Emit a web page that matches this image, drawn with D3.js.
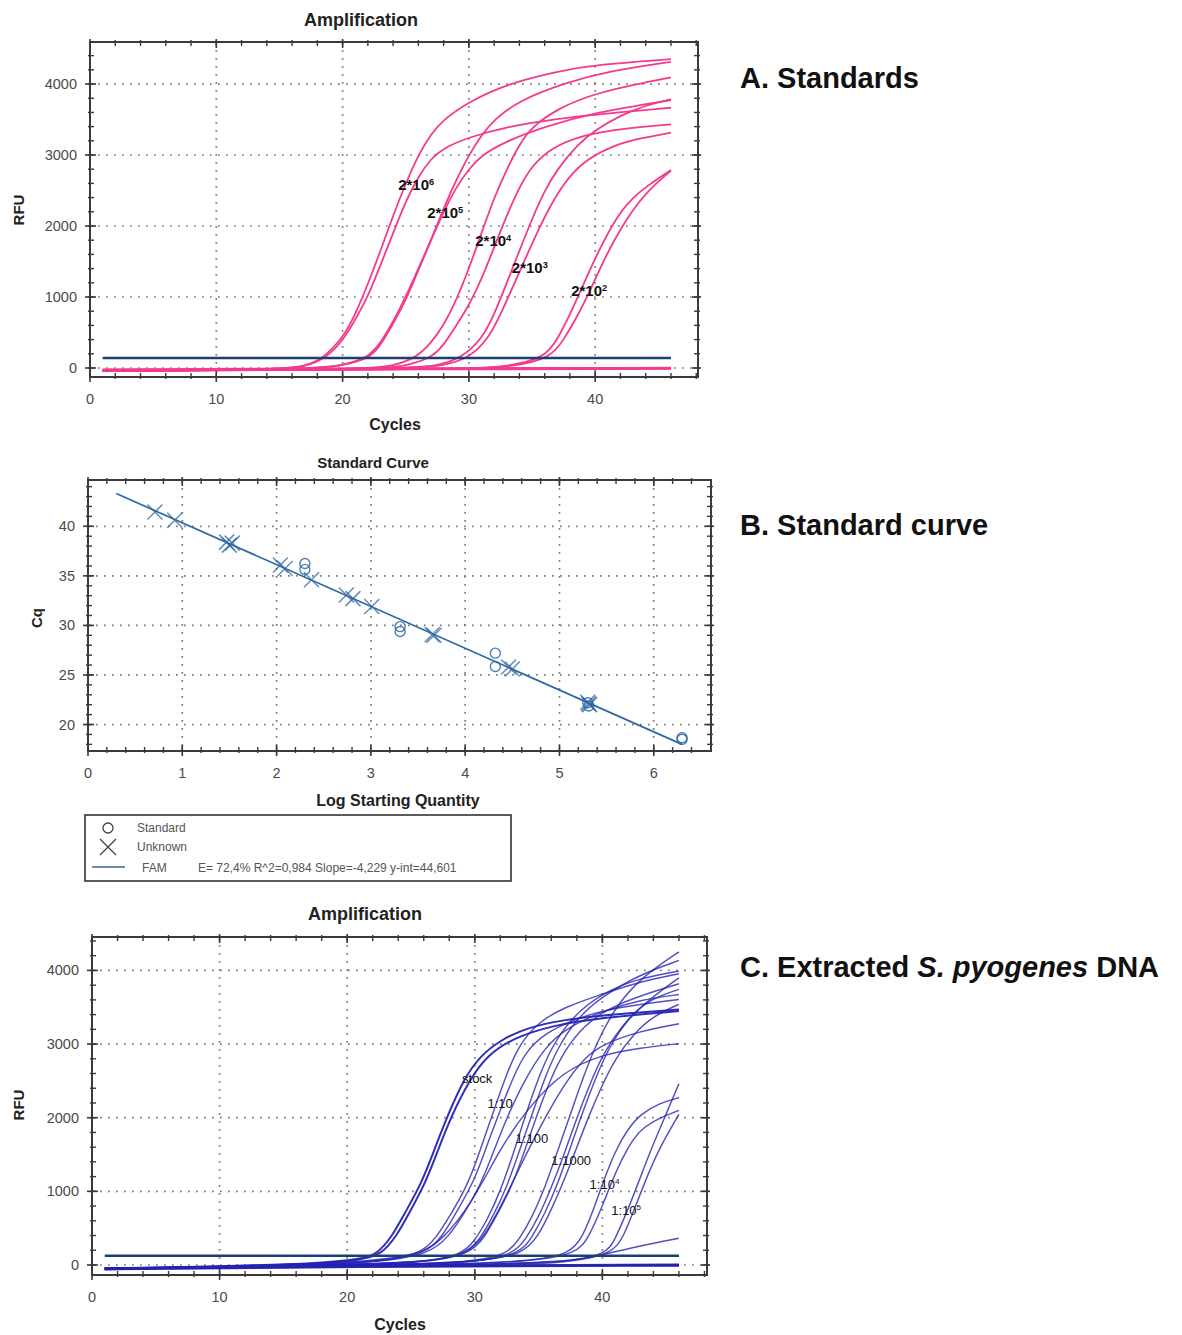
<!DOCTYPE html>
<html>
<head>
<meta charset="utf-8">
<script src="https://cdn.jsdelivr.net/npm/d3@7"></script>
<style>
  body { margin: 0; background: #fff; }
  text { font-family: "Liberation Sans", Arial, sans-serif; }
</style>
</head>
<body>
<div id="chart"></div>
<script>
const width = 1182;
const height = 1335;

// ---- data ----
// A. standards: [cycle, RFU] points per trace
const standardCurves = [
  [[1,-40],[15,-20],[17,20],[18.5,140],[20,420],[21,750],[22,1180],[23,1650],[24,2150],[25,2600],[26,3000],[27,3300],[28,3500],[30,3750],[33,4000],[37,4180],[40,4270],[46,4350]],
  [[1,-40],[15,-20],[17,15],[18.7,140],[20,380],[21,680],[22,1000],[23,1450],[24,1900],[25,2350],[26,2700],[27,2950],[28,3100],[30,3250],[33,3400],[37,3510],[40,3570],[46,3666]],
  [[1,-40],[18,-15],[20,40],[22,140],[23,350],[24,650],[25,1000],[26,1400],[27,1800],[28,2250],[29,2650],[30,3000],[31,3280],[32,3500],[34,3770],[37.5,4010],[41,4180],[46,4313]],
  [[1,-40],[18,-15],[20,35],[22.2,140],[23,320],[24,620],[25,950],[26,1380],[27,1800],[28,2200],[29,2550],[30,2800],[31,3000],[33,3200],[36,3400],[40,3600],[46,3775]],
  [[1,-40],[22,-15],[24,30],[25.8,140],[27,350],[28,600],[29,950],[30,1400],[31,1900],[32,2400],[33,2800],[34,3150],[35,3400],[37,3650],[40,3880],[46,4093]],
  [[1,-40],[23,-15],[25,30],[27,140],[28,320],[29,600],[30,880],[31,1250],[32,1700],[33,2150],[34,2550],[35,2850],[36.5,3100],[39,3280],[42,3370],[46,3432]],
  [[1,-40],[25,-15],[27.5,30],[29.4,140],[31,400],[32,750],[33,1200],[34,1650],[35,2100],[36,2500],[37,2800],[38.6,3150],[40,3350],[42,3560],[44,3700],[46,3783]],
  [[1,-40],[25,-15],[28,30],[30,140],[31.5,400],[32.5,750],[33.5,1150],[34.5,1550],[35.5,1950],[36.5,2300],[37.5,2600],[39,2900],[41,3100],[43,3220],[46,3315]],
  [[1,-40],[30,-20],[33,20],[36,140],[37,400],[38,750],[39,1150],[40,1550],[41,1900],[42,2200],[43,2400],[44,2550],[46,2790]],
  [[1,-40],[30,-20],[33.5,20],[36.5,140],[37.5,400],[38.5,700],[39.5,1050],[40.5,1450],[41.5,1800],[42.5,2100],[43.5,2350],[44.5,2550],[46,2780]]
];
const standardNegatives = [
  [[1,-30],[20,-15],[46,-8]],
  [[1,-25],[20,-8],[46,-2]]
];
const standardLabels = [
  { base: "2*10", sup: "6", at: [24.4, 2510] },
  { base: "2*10", sup: "5", at: [26.7, 2110] },
  { base: "2*10", sup: "4", at: [30.5, 1720] },
  { base: "2*10", sup: "3", at: [33.4, 1340] },
  { base: "2*10", sup: "2", at: [38.1, 1015] }
];
const standardThreshold = 140;

// C. extracted DNA traces
const stockCurves = [
  [[1,-55],[10,-20],[18,20],[21,80],[22.3,140],[23.5,380],[24.5,700],[25.8,1100],[26.8,1550],[27.8,2000],[29.2,2550],[30.5,2850],[32,3050],[34,3220],[37,3330],[40,3390],[46,3471]],
  [[1,-60],[10,-25],[18,15],[21,70],[22.7,140],[23.9,400],[24.9,720],[26.1,1100],[27.1,1550],[28.1,2000],[29.6,2520],[31,2850],[33,3080],[36,3250],[40,3360],[46,3448]]
];
const sampleCurves = [
  [[1,-50],[15,-10],[22,40],[25.8,140],[27,380],[28,650],[29.5,1100],[30.5,1600],[31.5,2100],[32.5,2600],[33.5,3000],[35,3300],[37,3500],[40,3680],[43,3850],[46,3955]],
  [[1,-55],[15,-15],[22,35],[26.2,140],[27.5,400],[28.5,700],[30,1150],[31,1650],[32,2100],[33,2550],[34,2900],[35.5,3150],[38,3350],[41,3500],[46,3606]],
  [[1,-50],[16,-10],[22,30],[26.5,140],[28,400],[29,650],[30.5,1100],[31.5,1550],[32.5,2000],[34,2550],[35.5,2950],[37,3200],[40,3450],[43,3600],[46,3674]],
  [[1,-45],[15,0],[22,50],[25.5,140],[27.3,300],[29.9,870],[32,1590],[34.2,2140],[36.9,2630],[40,2860],[43,2950],[46,3005]],
  [[1,-50],[20,0],[26,40],[29,140],[30,330],[31,620],[32,1000],[33,1500],[34,2050],[35,2550],[36,2950],[37.5,3350],[40,3700],[43,3900],[46,3991]],
  [[1,-50],[20,0],[26,35],[29.3,140],[30.4,350],[31.4,650],[32.5,1050],[33.5,1550],[34.5,2050],[35.5,2550],[36.5,2950],[38,3350],[40,3650],[43,3950],[46,4136]],
  [[1,-55],[20,-5],[26,30],[29.6,140],[30.8,380],[31.8,700],[33,1100],[34,1600],[35,2100],[36,2550],[37,2900],[38.5,3250],[41,3550],[46,3819]],
  [[1,-50],[20,0],[26,35],[29.5,140],[31,450],[32.5,950],[34,1500],[35.5,2000],[37,2450],[38.5,2800],[40,3000],[43,3180],[46,3276]],
  [[1,-50],[25,0],[30,50],[32.5,140],[33.5,350],[34.5,650],[35.5,1050],[36.5,1550],[37.5,2050],[38.5,2550],[39.5,3000],[41,3500],[43,3900],[46,4253]],
  [[1,-50],[25,0],[30,40],[33,140],[34,350],[35,650],[36,1050],[37,1500],[38,2000],[39,2450],[40,2850],[41.5,3250],[43.5,3600],[46,3742]],
  [[1,-45],[25,0],[30,45],[33.5,140],[34.5,380],[35.5,700],[36.5,1100],[37.5,1600],[38.5,2100],[39.5,2550],[40.5,2950],[42,3350],[44,3650],[46,3900]],
  [[1,-45],[25,0],[30,40],[33.8,140],[35,400],[36,750],[37,1150],[38,1600],[39,2050],[40,2450],[41,2800],[42.5,3150],[44,3380],[46,3540]],
  [[1,-45],[28,0],[34,50],[37.5,140],[38.5,400],[39.3,750],[40,1100],[41,1550],[42,1850],[43,2050],[44.5,2200],[46,2271]],
  [[1,-50],[28,0],[34,45],[38,140],[39,400],[40,800],[41,1250],[42,1600],[43,1850],[44.5,2000],[46,2100]],
  [[1,-50],[30,0],[37,40],[40.3,140],[41,350],[42,750],[43,1200],[44,1650],[45,2050],[46,2462]],
  [[1,-50],[30,0],[37,35],[40.8,140],[41.7,400],[42.6,800],[43.5,1200],[44.5,1600],[46,2045]],
  [[1,-45],[30,0],[36,20],[38,60],[40,140],[43,260],[46,362]]
];
const sampleNegatives = [
  [[1,-55],[20,-20],[46,-5]],
  [[1,-48],[20,-12],[46,2]]
];
const sampleLabels = [
  { base: "stock", sup: "", at: [29.0, 2470] },
  { base: "1:10", sup: "", at: [31.0, 2130] },
  { base: "1:100", sup: "", at: [33.2, 1655] },
  { base: "1:1000", sup: "", at: [36.0, 1357] },
  { base: "1:10", sup: "4", at: [39.0, 1031] },
  { base: "1:10", sup: "5", at: [40.7, 678] }
];
const sampleThreshold = 125;

// B. standard curve
const standardPoints = [
  [2.30, 36.25], [2.30, 35.65], [3.31, 29.88], [3.31, 29.38],
  [4.32, 27.2], [4.32, 25.86], [5.31, 21.87], [5.30, 22.2],
  [6.30, 18.66], [6.30, 18.5]
];
const unknownPoints = [
  [0.71, 41.44], [0.92, 40.6], [1.47, 38.4], [1.50, 38.1], [1.53, 38.3],
  [2.04, 36.1], [2.09, 35.75], [2.37, 34.6], [2.74, 33.07], [2.81, 32.7],
  [3.01, 31.9], [3.65, 29.05], [3.67, 29.0], [4.46, 25.8], [4.50, 25.6],
  [5.30, 22.25], [5.32, 22.0], [5.31, 22.1]
];
const fitLine = [[0.3, 43.3], [6.3, 18.0]];
const legendText = "E= 72,4% R^2=0,984 Slope=-4,229 y-int=44,601";

const ampXTicks = [0, 10, 20, 30, 40];
const ampYTicks = [0, 1000, 2000, 3000, 4000];
const stdXTicks = [0, 1, 2, 3, 4, 5, 6];
const stdYTicks = [20, 25, 30, 35, 40];

// ---- drawing ----
const svg = d3.select("#chart").append("svg")
  .attr("width", width)
  .attr("height", height);
svg.append("rect").attr("width", width).attr("height", height).attr("fill", "#fff");

const gridColor = "#7a7a7a";
const frameColor = "#3a3a3a";
const tickTextColor = "#4a4a4a";

function drawFrame(g, x, y, xMajor, yMajor) {
  const [x0, x1] = x.range();
  const [y0, y1] = y.range(); // y0 bottom, y1 top

  // dotted grid
  g.selectAll(".gx").data(xMajor.filter(v => Math.abs(x(v) - x0) > 2)).enter()
    .append("line")
    .attr("x1", d => x(d)).attr("x2", d => x(d))
    .attr("y1", y1).attr("y2", y0)
    .attr("stroke", gridColor).attr("stroke-width", 1.7)
    .attr("stroke-dasharray", "1.7,6.3");
  g.selectAll(".gy").data(yMajor).enter()
    .append("line")
    .attr("x1", x0).attr("x2", x1)
    .attr("y1", d => y(d)).attr("y2", d => y(d))
    .attr("stroke", gridColor).attr("stroke-width", 1.7)
    .attr("stroke-dasharray", "1.7,6.3");
}

function drawBorder(g, x, y, xMajor, yMajor, xMinor, yMinor, fmtX, fmtY) {
  const [x0, x1] = x.range();
  const [y0, y1] = y.range();
  const tk = 4;
  // minor ticks on all four sides
  xMinor.forEach(v => {
    g.append("line").attr("x1", x(v)).attr("x2", x(v)).attr("y1", y0 + 2).attr("y2", y0 - tk)
      .attr("stroke", frameColor).attr("stroke-width", 1.4);
    g.append("line").attr("x1", x(v)).attr("x2", x(v)).attr("y1", y1 - 2).attr("y2", y1 + tk)
      .attr("stroke", frameColor).attr("stroke-width", 1.4);
  });
  yMinor.forEach(v => {
    g.append("line").attr("x1", x0 - 2).attr("x2", x0 + tk).attr("y1", y(v)).attr("y2", y(v))
      .attr("stroke", frameColor).attr("stroke-width", 1.4);
    g.append("line").attr("x1", x1 + 2).attr("x2", x1 - tk).attr("y1", y(v)).attr("y2", y(v))
      .attr("stroke", frameColor).attr("stroke-width", 1.4);
  });
  // major ticks crossing the frame
  xMajor.forEach(v => {
    g.append("line").attr("x1", x(v)).attr("x2", x(v)).attr("y1", y0 + 5).attr("y2", y0 - 6)
      .attr("stroke", frameColor).attr("stroke-width", 1.6);
    g.append("line").attr("x1", x(v)).attr("x2", x(v)).attr("y1", y1 - 3).attr("y2", y1 + 6)
      .attr("stroke", frameColor).attr("stroke-width", 1.6);
  });
  yMajor.forEach(v => {
    g.append("line").attr("x1", x0 - 5).attr("x2", x0 + 6).attr("y1", y(v)).attr("y2", y(v))
      .attr("stroke", frameColor).attr("stroke-width", 1.6);
    g.append("line").attr("x1", x1 + 3).attr("x2", x1 - 6).attr("y1", y(v)).attr("y2", y(v))
      .attr("stroke", frameColor).attr("stroke-width", 1.6);
  });
  g.append("rect")
    .attr("x", x0).attr("y", y1)
    .attr("width", x1 - x0).attr("height", y0 - y1)
    .attr("fill", "none").attr("stroke", frameColor).attr("stroke-width", 2);

  // tick labels
  g.selectAll(".xl").data(xMajor).enter().append("text")
    .attr("x", d => x(d)).attr("y", y0 + 27)
    .attr("text-anchor", "middle")
    .attr("font-size", 14.5).attr("fill", tickTextColor)
    .text(fmtX);
  g.selectAll(".yl").data(yMajor).enter().append("text")
    .attr("x", x0 - 13).attr("y", d => y(d) + 5)
    .attr("text-anchor", "end")
    .attr("font-size", 14.5).attr("fill", tickTextColor)
    .text(fmtY);
}

function titleText(x, y, txt, size, rotate) {
  const t = svg.append("text")
    .attr("text-anchor", "middle")
    .attr("font-weight", "bold")
    .attr("font-size", size)
    .attr("fill", "#222")
    .text(txt);
  if (rotate) t.attr("transform", `translate(${x},${y}) rotate(-90)`);
  else t.attr("x", x).attr("y", y);
  return t;
}

function addLabel(g, x, y, lab, font, size, weight) {
  const t = g.append("text")
    .attr("x", x(lab.at[0])).attr("y", y(lab.at[1]))
    .attr("font-family", font)
    .attr("font-size", size)
    .attr("font-weight", weight)
    .attr("fill", "#111");
  t.append("tspan").text(lab.base);
  if (lab.sup) {
    t.append("tspan").attr("dy", -5).attr("font-size", size * 0.62).text(lab.sup);
  }
}

function amplificationPanel(opts) {
  const x = d3.scaleLinear().domain([0, opts.xMax]).range([opts.left, opts.right]);
  const y = d3.scaleLinear().domain([opts.yMin, opts.yMax]).range([opts.bottom, opts.top]);
  const g = svg.append("g");
  drawFrame(g, x, y, ampXTicks, ampYTicks);

  const line = d3.line()
    .x(d => x(d[0]))
    .y(d => y(d[1]))
    .curve(d3.curveBasis);

  g.selectAll(".neg").data(opts.negatives).enter().append("path")
    .attr("d", line).attr("fill", "none")
    .attr("stroke", opts.color).attr("stroke-width", 2.6).attr("stroke-opacity", 0.95);

  g.selectAll(".curve").data(opts.curves).enter().append("path")
    .attr("d", line).attr("fill", "none")
    .attr("stroke", opts.color).attr("stroke-width", opts.lw)
    .attr("stroke-opacity", opts.opacity);

  if (opts.thick) {
    g.selectAll(".thick").data(opts.thick).enter().append("path")
      .attr("d", line).attr("fill", "none")
      .attr("stroke", opts.color).attr("stroke-width", 2)
      .attr("stroke-opacity", 0.95);
  }

  // threshold
  g.append("line")
    .attr("x1", x(1)).attr("x2", x(46))
    .attr("y1", y(opts.threshold)).attr("y2", y(opts.threshold))
    .attr("stroke", "#1c3f72").attr("stroke-width", 2.6);

  drawBorder(g, x, y, ampXTicks, ampYTicks,
    d3.range(2, opts.xMax, 2), d3.range(-200, opts.yMax, 200).filter(v => v > opts.yMin),
    d => d, d => d);

  opts.labels.forEach(l => addLabel(g, x, y, l, opts.labelFont, opts.labelSize, opts.labelWeight));
  return { x, y };
}

// Panel A
amplificationPanel({
  left: 90, right: 698, top: 42, bottom: 377,
  xMax: 48.14, yMin: -127, yMax: 4592,
  curves: standardCurves, negatives: standardNegatives,
  color: "#f43a8d", lw: 1.8, opacity: 1,
  threshold: standardThreshold,
  labels: standardLabels, labelFont: "Lato, 'Open Sans', sans-serif", labelSize: 15, labelWeight: "bold"
});
titleText(361, 26, "Amplification", 18);
titleText(24, 210, "RFU", 15, true);
titleText(395, 430, "Cycles", 16);

// Panel C
amplificationPanel({
  left: 92, right: 707, top: 937, bottom: 1275,
  xMax: 48.2, yMin: -136, yMax: 4454,
  curves: sampleCurves, negatives: sampleNegatives, thick: stockCurves,
  color: "#2424b2", lw: 1.45, opacity: 0.8,
  threshold: sampleThreshold,
  labels: sampleLabels, labelFont: "'Liberation Serif', 'DejaVu Serif', serif", labelSize: 13, labelWeight: "normal"
});
titleText(365, 920, "Amplification", 18);
titleText(24, 1105, "RFU", 15, true);
titleText(400, 1330, "Cycles", 16);

// Panel B: standard curve
(function () {
  const x = d3.scaleLinear().domain([0, 6.607]).range([88, 711]);
  const y = d3.scaleLinear().domain([17.33, 44.67]).range([751, 480]);
  const g = svg.append("g");
  drawFrame(g, x, y, stdXTicks, stdYTicks);

  const blue = "#2f68a3";
  g.append("path")
    .datum(fitLine)
    .attr("d", d3.line().x(d => x(d[0])).y(d => y(d[1])))
    .attr("fill", "none").attr("stroke", blue).attr("stroke-width", 1.7);

  g.selectAll(".std").data(standardPoints).enter().append("circle")
    .attr("cx", d => x(d[0])).attr("cy", d => y(d[1]))
    .attr("r", 5)
    .attr("fill", "none").attr("stroke", blue).attr("stroke-width", 1.4).attr("stroke-opacity", 0.85);

  const s = 7.5;
  g.selectAll(".unk").data(unknownPoints).enter().append("path")
    .attr("d", d => `M${x(d[0]) - s},${y(d[1]) - s}L${x(d[0]) + s},${y(d[1]) + s}M${x(d[0]) - s},${y(d[1]) + s}L${x(d[0]) + s},${y(d[1]) - s}`)
    .attr("fill", "none").attr("stroke", blue).attr("stroke-width", 1.5).attr("stroke-opacity", 0.75);

  drawBorder(g, x, y, stdXTicks, stdYTicks,
    d3.range(0.2, 6.6, 0.2), d3.range(18, 45, 1),
    d => d, d => d);

  titleText(373, 468, "Standard Curve", 15);
  titleText(42, 618, "Cq", 15, true);
  titleText(398, 806, "Log Starting Quantity", 16);

  // legend
  const lg = svg.append("g");
  lg.append("rect").attr("x", 85).attr("y", 815).attr("width", 426).attr("height", 66)
    .attr("fill", "#fff").attr("stroke", "#333").attr("stroke-width", 1.6);
  lg.append("circle").attr("cx", 108).attr("cy", 828).attr("r", 5)
    .attr("fill", "none").attr("stroke", "#444").attr("stroke-width", 1.3);
  lg.append("path").attr("d", "M100,839L116,855M100,855L116,839")
    .attr("stroke", "#444").attr("stroke-width", 1.3);
  lg.append("line").attr("x1", 92).attr("x2", 125).attr("y1", 867).attr("y2", 867)
    .attr("stroke", blue).attr("stroke-width", 1.6);
  const lt = (xx, yy, t) => lg.append("text").attr("x", xx).attr("y", yy)
    .attr("font-size", 12).attr("fill", "#555").text(t);
  lt(137, 832, "Standard");
  lt(137, 851, "Unknown");
  lt(142, 872, "FAM");
  lt(198, 872, legendText);
})();

// Right-hand captions
const cap = (yy) => svg.append("text")
  .attr("x", 740).attr("y", yy)
  .attr("font-family", "Lato, 'Open Sans', sans-serif")
  .attr("font-weight", "bold").attr("font-size", 29).attr("fill", "#111");
cap(88).text("A. Standards");
cap(535).text("B. Standard curve");
const c = cap(977);
c.append("tspan").text("C. Extracted ");
c.append("tspan").attr("font-style", "italic").text("S. pyogenes");
c.append("tspan").text(" DNA");
</script>
</body>
</html>
